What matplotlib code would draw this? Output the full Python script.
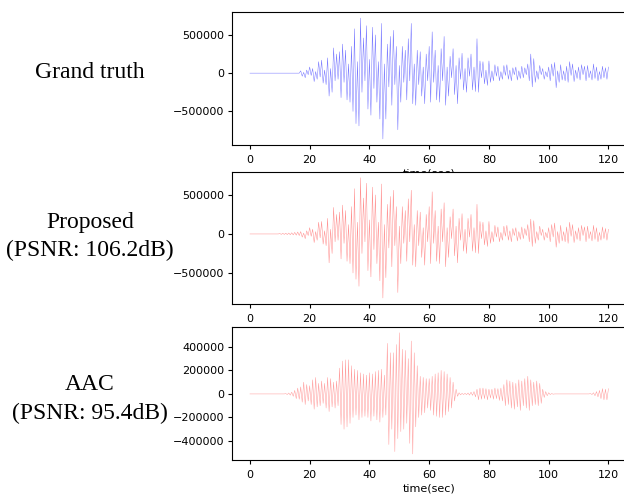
import numpy as np
import matplotlib
matplotlib.use("Agg")
import matplotlib.pyplot as plt

# sample step of the peak readings (sec), values are in thousands
dt = 0.5

gt_start = 17.0
gt_vals = [
    30, -40, 10, -60, 40, -20,
    80, -30, 60, -110, 20, -80,
    150, -50, 170, -130, 40, -150,
    200, -300, 60, -250, 330, -100,
    250, -80, 280, -320, 380, -120,
    300, -350, 120, -380, 350, -500,
    580, -660, 150, -690, 720, -250,
    460, -100, 620, -470, 180, -550,
    600, -200, 500, -380, 150, -600,
    650, -860, 120, -600, 380, -180,
    480, -420, 560, -150, 350, -740,
    100, -380, 350, -120, 300, -350,
    450, -100, 650, -400, 120, -420,
    300, -150, 280, -300, 80, -400,
    250, -100, 350, -380, 540, -120,
    300, -350, 100, -380, 320, -100,
    480, -420, 80, -300, 220, -60,
    320, -280, 100, -400, 200, -80,
    260, -220, 60, -250, 200, -40,
    250, -220, 80, -240, 450, -250,
    160, -60, 150, -140, 40, -160,
    160, -120, 30, -100, 110, -40,
    90, -100, 20, -80, 100, -30,
    110, -80, 40, -100, 70, -20,
    80, -90, 30, -70, 90, -60,
    70, -20, 120, -100, 250, -180,
    190, -120, 30, -80, 100, -20,
    60, -80, 20, -50, 80, -100,
    120, -40, 140, -190, 30, -120,
    110, -90, 30, -100, 90, -120,
    150, -30, 120, -110, 40, -70,
    80, -90, 110, -20, 90, -100,
    100, -60, 30, -90, 120, -70,
    80, -100, 20, -80, 90, -60,
    70, -80, 80,
]

# proposed reconstruction, from t = 10 s
prop_start = 10.0
prop_vals = [
    5, -5, 8, -6, 10, -8, 12, -10, 15, -12, 20, -15, 25, -20,
    30, -40, 10, -60, 40, -20,
    80, -30, 60, -110, 30, -80,
    150, -50, 160, -130, 40, -150,
    200, -370, 60, -250, 340, -100,
    250, -80, 280, -320, 370, -120,
    300, -350, 120, -380, 350, -500,
    580, -580, 150, -670, 720, -250,
    460, -100, 650, -470, 180, -550,
    600, -200, 500, -380, 150, -600,
    640, -820, 120, -560, 380, -180,
    480, -420, 560, -150, 350, -750,
    100, -380, 350, -120, 300, -350,
    450, -100, 560, -400, 120, -420,
    300, -150, 280, -300, 80, -400,
    250, -100, 350, -380, 540, -120,
    300, -350, 100, -380, 320, -100,
    400, -420, 80, -300, 220, -60,
    320, -280, 100, -370, 200, -80,
    260, -220, 60, -250, 200, -40,
    250, -220, 80, -240, 380, -250,
    160, -60, 150, -140, 40, -160,
    160, -120, 30, -100, 110, -40,
    90, -100, 20, -80, 100, -30,
    110, -80, 40, -100, 70, -20,
    80, -90, 30, -70, 90, -60,
    70, -20, 120, -100, 190, -160,
    170, -120, 30, -80, 100, -20,
    60, -80, 20, -50, 80, -100,
    120, -40, 140, -170, 30, -120,
    110, -90, 30, -100, 90, -120,
    150, -30, 120, -110, 40, -70,
    80, -90, 110, -20, 90, -100,
    100, -60, 30, -90, 110, -70,
    80, -100, 20, -80, 90, -60,
    70, -80, 60,
]

# AAC reconstruction, from t = 12 s
aac_start = 12.0
aac_vals = [
    3, -5, 8, -10, 15, -20,
    30, -40, 50, -45, 60, -70,
    100, -90, 80, -60, 70, -90,
    120, -130, 140, -110, 90, -100,
    110, -80, 90, -120, 140, -150,
    130, -110, 100, -120, 110, -100,
    220, -260, 280, -300, 290, -280,
    290, -250, 240, -200, 210, -180,
    200, -220, 180, -200, 170, -190,
    160, -200, 180, -230, 170, -190,
    190, -220, 200, -240, 210, -200,
    160, -180, 430, -430, 350, -300,
    350, -490, 420, -380, 520, -320,
    380, -300, 370, -250, 300, -420,
    450, -510, 350, -280, 240, -200,
    150, -180, 140, -160, 130, -120,
    130, -140, 150, -180, 170, -190,
    180, -200, 200, -200, 190, -180,
    170, -150, 140, -120, 100, -60,
    40, -20, 10, -8, 5, -5,
    5, -6, 8, -10, 15, -12,
    20, -25, 40, -50, 50, -45,
    50, -40, 45, -50, 40, -35,
    40, -45, 50, -40, 45, -55,
    50, -60, 80, -100, 120, -90,
    110, -120, 100, -130, 90, -110,
    120, -140, 110, -100, 130, -120,
    150, -140, 120, -100, 100, -90,
    110, -100, 90, -80, 40, -30,
    20, -15, 10, -5, 3, -2,
    0, 0, 0, 0, 0, 0, 0, 0, 0, 0, 0, 0,
    0, 0, 0, 0, 0, 0, 0, 0, 0, 0, 0, 0,
    3, -5, 10, -15, 20, -25,
    30, -40, 45, -50, 40, -50,
    45,
]

labels = ["Grand truth", "Proposed\n(PSNR: 106.2dB)", "AAC\n(PSNR: 95.4dB)"]
xticks = [0, 20, 40, 60, 80, 100, 120]


def series(start, vals):
    v = np.array(vals, dtype=float) * 1000
    t = start + dt * np.arange(len(v))
    # flat, quiet part before the first reading
    return (np.concatenate([[0.0, start - dt], t]),
            np.concatenate([[0.0, 0.0], v]))


fig = plt.figure(figsize=(6.24, 4.94), dpi=100)

boxes = [
    [0.3718, 0.7065, 0.632, 0.2692],
    [0.3718, 0.3846, 0.632, 0.2678],
    [0.3718, 0.0688, 0.632, 0.2699],
]
data = [
    (series(gt_start, gt_vals), "blue", 0.55, [-500000, 0, 500000]),
    (series(prop_start, prop_vals), "red", 0.45, [-500000, 0, 500000]),
    (series(aac_start, aac_vals), "red", 0.4,
     [-400000, -200000, 0, 200000, 400000]),
]

for box, ((t, v), col, al, yt) in zip(boxes, data):
    ax = fig.add_axes(box)
    ax.plot(t, v, color=col, lw=0.35, alpha=al)
    ax.set_xlim(-6, 126)
    ax.set_xticks(xticks)
    ax.set_yticks(yt)
    ax.tick_params(labelsize=8, length=2.9, pad=2.8)
    ax.tick_params(axis="x", pad=4.6)
    ax.set_xlabel("time(sec)", fontsize=8, labelpad=2.2)

lab_y = [73, 236.5, 399]
for s, y in zip(labels, lab_y):
    fig.text(90 / 624, 1 - y / 494, s, ha="center", va="center",
             family="Liberation Serif", fontsize=17, linespacing=1.45)

fig.savefig("out.png", dpi=100)
